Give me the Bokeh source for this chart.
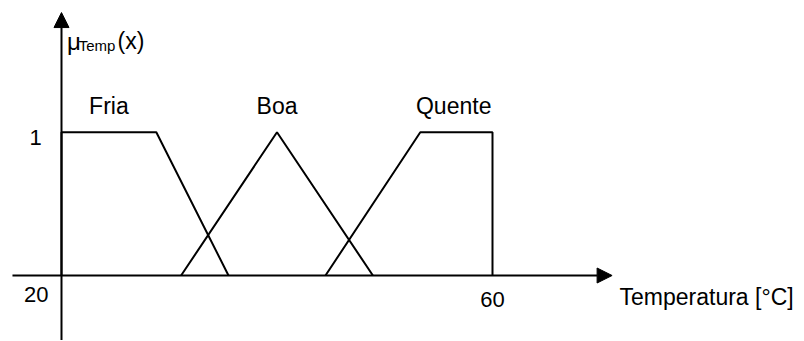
from bokeh.plotting import figure
from bokeh.models import Arrow, NormalHead
from bokeh.core.properties import value
from bokeh.embed import file_html
from bokeh.resources import INLINE

# Membership functions (temperature in °C, membership degree)
fria_x = [20, 20, 28.8, 35.5]
fria_y = [0, 1, 1, 0]
boa_x = [31.1, 40, 48.9]
boa_y = [0, 1, 0]
quente_x = [44.5, 53.3, 60, 60]
quente_y = [0, 1, 1, 0]

set_names = ["Fria", "Boa", "Quente"]
set_label_x = [24.4, 40.0, 56.4]
set_label_y = [1.18, 1.18, 1.18]

x_tick_values = [20, 60]
x_tick_labels = ["20", "60"]
y_tick_values = [1]
y_tick_labels = ["1"]

x_title = "Temperatura [°C]"
y_title_parts = ["μ", "Temp", "(x)"]

FONT = value("Liberation Sans")

p = figure(width=800, height=340, x_range=(14.339, 88.585), y_range=(-0.4536, 1.9191),
           min_border=0, toolbar_location=None, output_backend="svg",
           x_axis_location=None, y_axis_location=None)
p.grid.visible = False
p.outline_line_color = None
p.background_fill_color = "white"
p.border_fill_color = "white"

# Axes as arrows
p.add_layout(Arrow(end=NormalHead(size=15, fill_color="black", line_color="black", line_width=1),
                   x_start=15.45, y_start=0, x_end=71.1, y_end=0,
                   line_color="black", line_width=2))
p.add_layout(Arrow(end=NormalHead(size=15, fill_color="black", line_color="black", line_width=1),
                   x_start=20, y_start=-0.6, x_end=20, y_end=1.835,
                   line_color="black", line_width=2))

# Membership functions
for xs, ys in [(fria_x, fria_y), (boa_x, boa_y), (quente_x, quente_y)]:
    p.line(xs, ys, line_color="black", line_width=2)

# Set names
p.text(x=set_label_x, y=set_label_y, text=set_names, text_font=FONT, text_font_size="23px",
       text_align="center", text_baseline="alphabetic", text_color="black")

# Tick labels
p.text(x=[17.66, 60.0], y=[-0.135, -0.165], text=x_tick_labels, text_font=FONT,
       text_font_size="22px", text_align="center", text_baseline="alphabetic", text_color="black")
p.text(x=[17.6], y=[0.96], text=y_tick_labels, text_font=FONT,
       text_font_size="22px", text_align="center", text_baseline="alphabetic", text_color="black")

# Axis titles
p.text(x=[71.79], y=[-0.151], text=[x_title], text_font=FONT, text_font_size="23px",
       text_align="left", text_baseline="alphabetic", text_color="black")
p.text(x=[20.5], y=[1.633], text=[y_title_parts[0]], text_font=FONT, text_font_size="24px",
       text_align="left", text_baseline="alphabetic", text_color="black")
p.text(x=[21.6], y=[1.605], text=[y_title_parts[1]], text_font=FONT, text_font_size="15px",
       text_align="left", text_baseline="alphabetic", text_color="black")
p.text(x=[25.2], y=[1.633], text=[y_title_parts[2]], text_font=FONT, text_font_size="23px",
       text_align="left", text_baseline="alphabetic", text_color="black")

open("out.html", "w").write(file_html(p, INLINE))
